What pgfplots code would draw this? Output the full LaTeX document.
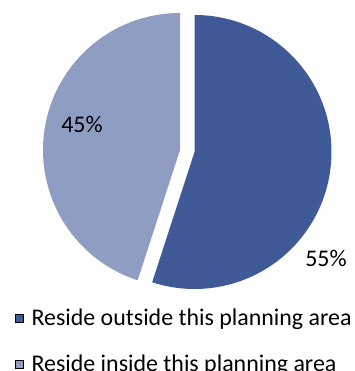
\documentclass[border=0pt]{standalone}
\usepackage{pgfplots}
\usepackage{pgfplotstable}
\pgfplotsset{compat=1.18}
\usepackage{fontspec}
\setmainfont{Carlito}
\definecolor{darkslice}{HTML}{405A98}
\definecolor{lightslice}{HTML}{8F9DC2}
\pgfplotstableread{
label value
outside 55
inside 45
}\piedata
\begin{document}
\begin{tikzpicture}
\pgfplotstablegetelem{0}{value}\of\piedata \let\vA\pgfplotsretval
\pgfplotstablegetelem{1}{value}\of\piedata \let\vB\pgfplotsretval
\pgfmathsetmacro\angA{90-3.6*\vA}
\pgfmathsetmacro\angB{90+3.6*\vB}
\begin{axis}[
  name=pie,
  scale only axis, width=355bp, height=371bp,
  xmin=0, xmax=355, ymin=0, ymax=371,
  hide axis, clip=false,
  legend style={at={(axis cs:15,64)}, anchor=north west, draw=none, fill=none,
    inner sep=0pt, row sep=24bp, font=\fontsize{24}{28}\selectfont},
  legend cell align=left,
  legend image code/.code={\fill[#1] (0bp,-3.8bp) rectangle (7.6bp,3.8bp); \path (14bp,0bp);},
]
\addlegendimage{fill=darkslice}
\addlegendentry{Reside outside this planning area}
\addlegendimage{fill=lightslice}
\addlegendentry{Reside inside this planning area}
\fill[darkslice] (axis cs:194.5,219) -- ++(90:137bp) arc[start angle=90, end angle=\angA, radius=137bp] -- cycle;
\fill[lightslice] (axis cs:180,221) -- ++(90:137bp) arc[start angle=90, end angle=\angB, radius=137bp] -- cycle;
\node[font=\fontsize{24}{28}\selectfont] at (axis cs:82,247) {\vB\%};
\node[font=\fontsize{24}{28}\selectfont] at (axis cs:326,113) {\vA\%};
\end{axis}
\pgfresetboundingbox
\path[use as bounding box] (pie.south west) rectangle (pie.north east);
\end{tikzpicture}
\end{document}
